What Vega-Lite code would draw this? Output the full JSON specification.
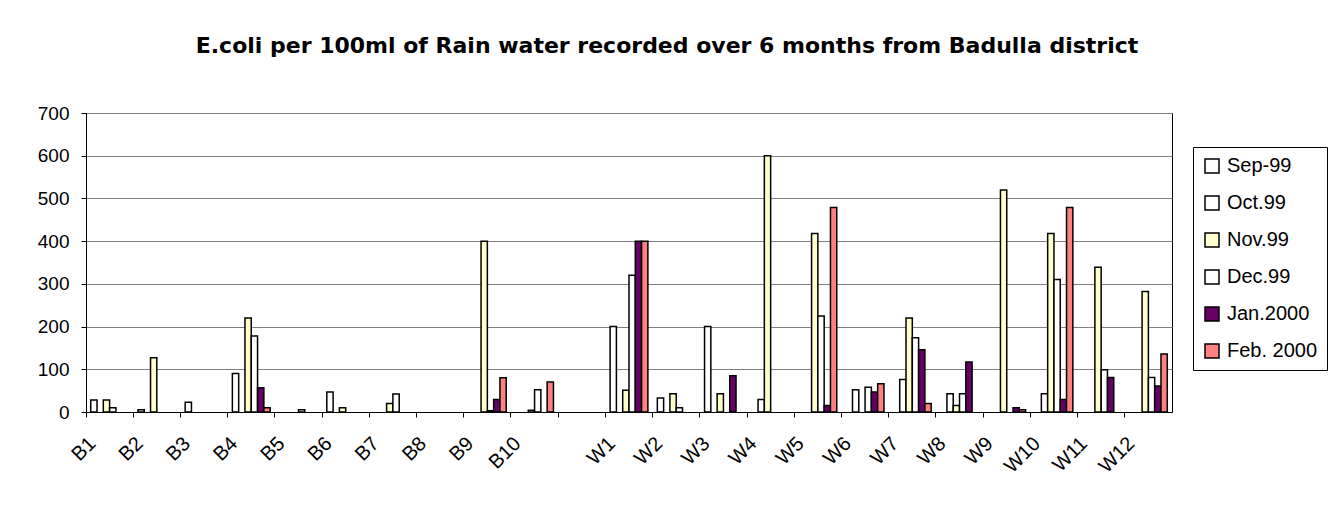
{
  "$schema": "https://vega.github.io/schema/vega-lite/v6.json",
  "autosize": "none",
  "width": 1086,
  "height": 299,
  "padding": {"left": 86, "top": 113, "right": 168, "bottom": 97},
  "background": "white",
  "config": {
    "font": "Liberation Sans",
    "view": {"stroke": "#000000", "strokeWidth": 1}
  },
  "title": {
    "text": "E.coli per 100ml of Rain water recorded over 6 months from Badulla district",
    "fontSize": 22,
    "fontWeight": "bold",
    "font": "DejaVu Sans",
    "color": "#000000",
    "anchor": "middle",
    "frame": "group",
    "dx": 38,
    "offset": 46
  },
  "data": {
    "values": [
      {"site": "B1", "month": "Sep-99", "ecoli": 28},
      {"site": "B1", "month": "Nov.99", "ecoli": 28},
      {"site": "B1", "month": "Dec.99", "ecoli": 10},
      {"site": "B2", "month": "Sep-99", "ecoli": 5},
      {"site": "B2", "month": "Nov.99", "ecoli": 127},
      {"site": "B3", "month": "Sep-99", "ecoli": 23},
      {"site": "B4", "month": "Sep-99", "ecoli": 90},
      {"site": "B4", "month": "Nov.99", "ecoli": 220},
      {"site": "B4", "month": "Dec.99", "ecoli": 178},
      {"site": "B4", "month": "Jan.2000", "ecoli": 57},
      {"site": "B4", "month": "Feb. 2000", "ecoli": 10},
      {"site": "B5", "month": "Dec.99", "ecoli": 5},
      {"site": "B6", "month": "Sep-99", "ecoli": 47},
      {"site": "B6", "month": "Nov.99", "ecoli": 10},
      {"site": "B7", "month": "Nov.99", "ecoli": 20},
      {"site": "B7", "month": "Dec.99", "ecoli": 42},
      {"site": "B9", "month": "Nov.99", "ecoli": 400},
      {"site": "B9", "month": "Dec.99", "ecoli": 3},
      {"site": "B9", "month": "Jan.2000", "ecoli": 29},
      {"site": "B9", "month": "Feb. 2000", "ecoli": 80},
      {"site": "B10", "month": "Nov.99", "ecoli": 4},
      {"site": "B10", "month": "Dec.99", "ecoli": 52},
      {"site": "B10", "month": "Feb. 2000", "ecoli": 70},
      {"site": "W1", "month": "Sep-99", "ecoli": 200},
      {"site": "W1", "month": "Nov.99", "ecoli": 51},
      {"site": "W1", "month": "Dec.99", "ecoli": 320},
      {"site": "W1", "month": "Jan.2000", "ecoli": 400},
      {"site": "W1", "month": "Feb. 2000", "ecoli": 400},
      {"site": "W2", "month": "Sep-99", "ecoli": 33},
      {"site": "W2", "month": "Nov.99", "ecoli": 43},
      {"site": "W2", "month": "Dec.99", "ecoli": 10},
      {"site": "W3", "month": "Sep-99", "ecoli": 200},
      {"site": "W3", "month": "Nov.99", "ecoli": 43},
      {"site": "W3", "month": "Jan.2000", "ecoli": 85},
      {"site": "W4", "month": "Oct.99", "ecoli": 29},
      {"site": "W4", "month": "Nov.99", "ecoli": 600},
      {"site": "W5", "month": "Nov.99", "ecoli": 418},
      {"site": "W5", "month": "Dec.99", "ecoli": 225},
      {"site": "W5", "month": "Jan.2000", "ecoli": 15},
      {"site": "W5", "month": "Feb. 2000", "ecoli": 479},
      {"site": "W6", "month": "Oct.99", "ecoli": 52},
      {"site": "W6", "month": "Dec.99", "ecoli": 58},
      {"site": "W6", "month": "Jan.2000", "ecoli": 47},
      {"site": "W6", "month": "Feb. 2000", "ecoli": 66},
      {"site": "W7", "month": "Oct.99", "ecoli": 76},
      {"site": "W7", "month": "Nov.99", "ecoli": 220},
      {"site": "W7", "month": "Dec.99", "ecoli": 174},
      {"site": "W7", "month": "Jan.2000", "ecoli": 146},
      {"site": "W7", "month": "Feb. 2000", "ecoli": 20},
      {"site": "W8", "month": "Oct.99", "ecoli": 43},
      {"site": "W8", "month": "Nov.99", "ecoli": 15},
      {"site": "W8", "month": "Dec.99", "ecoli": 43},
      {"site": "W8", "month": "Jan.2000", "ecoli": 117},
      {"site": "W9", "month": "Nov.99", "ecoli": 520},
      {"site": "W9", "month": "Jan.2000", "ecoli": 10},
      {"site": "W9", "month": "Feb. 2000", "ecoli": 5},
      {"site": "W10", "month": "Oct.99", "ecoli": 43},
      {"site": "W10", "month": "Nov.99", "ecoli": 418},
      {"site": "W10", "month": "Dec.99", "ecoli": 310},
      {"site": "W10", "month": "Jan.2000", "ecoli": 29},
      {"site": "W10", "month": "Feb. 2000", "ecoli": 479},
      {"site": "W11", "month": "Nov.99", "ecoli": 339},
      {"site": "W11", "month": "Dec.99", "ecoli": 99},
      {"site": "W11", "month": "Jan.2000", "ecoli": 81},
      {"site": "W12", "month": "Nov.99", "ecoli": 282},
      {"site": "W12", "month": "Dec.99", "ecoli": 81},
      {"site": "W12", "month": "Jan.2000", "ecoli": 61},
      {"site": "W12", "month": "Feb. 2000", "ecoli": 136}
    ]
  },
  "mark": {"type": "bar", "stroke": "#000000", "strokeWidth": 1.5},
  "encoding": {
    "x": {
      "field": "site",
      "type": "nominal",
      "scale": {
        "domain": ["B1", "B2", "B3", "B4", "B5", "B6", "B7", "B8", "B9", "B10", " ", "W1", "W2", "W3", "W4", "W5", "W6", "W7", "W8", "W9", "W10", "W11", "W12"],
        "paddingInner": 0,
        "paddingOuter": 0
      },
      "axis": {
        "title": null,
        "bandPosition": 0,
        "labelOffset": -24,
        "labelAngle": -45,
        "labelAlign": "right",
        "labelBaseline": "top",
        "labelPadding": 16,
        "labelFontSize": 20,
        "labelColor": "#000000",
        "tickColor": "#000000",
        "tickSize": 5,
        "domainColor": "#000000",
        "grid": false
      }
    },
    "xOffset": {
      "field": "month",
      "type": "nominal",
      "scale": {
        "domain": ["Sep-99", "Oct.99", "Nov.99", "Dec.99", "Jan.2000", "Feb. 2000"],
        "paddingInner": 0,
        "paddingOuter": 0.75
      }
    },
    "y": {
      "field": "ecoli",
      "type": "quantitative",
      "scale": {"domain": [0, 700], "nice": false},
      "axis": {
        "title": null,
        "values": [0, 100, 200, 300, 400, 500, 600, 700],
        "labelFontSize": 19,
        "labelColor": "#000000",
        "labelPadding": 12,
        "tickColor": "#000000",
        "tickSize": 5,
        "domainColor": "#000000",
        "gridColor": "#808080",
        "gridWidth": 1.2,
        "gridOpacity": 1
      }
    },
    "color": {
      "field": "month",
      "type": "nominal",
      "scale": {
        "domain": ["Sep-99", "Oct.99", "Nov.99", "Dec.99", "Jan.2000", "Feb. 2000"],
        "range": ["#FFFFFF", "#FFFFFF", "#FFFFCC", "#FFFFFF", "#660066", "#FF8080"]
      },
      "legend": {
        "title": null,
        "orient": "none",
        "legendX": 1107,
        "legendY": 34,
        "strokeColor": "#000000",
        "fillColor": "#FFFFFF",
        "padding": 9,
        "symbolType": "square",
        "symbolSize": 196,
        "symbolStrokeColor": "#000000",
        "symbolStrokeWidth": 1.5,
        "symbolOpacity": 1,
        "labelFontSize": 20,
        "labelColor": "#000000",
        "labelOffset": 5,
        "rowPadding": 17,
        "labelLimit": 200
      }
    }
  }
}
